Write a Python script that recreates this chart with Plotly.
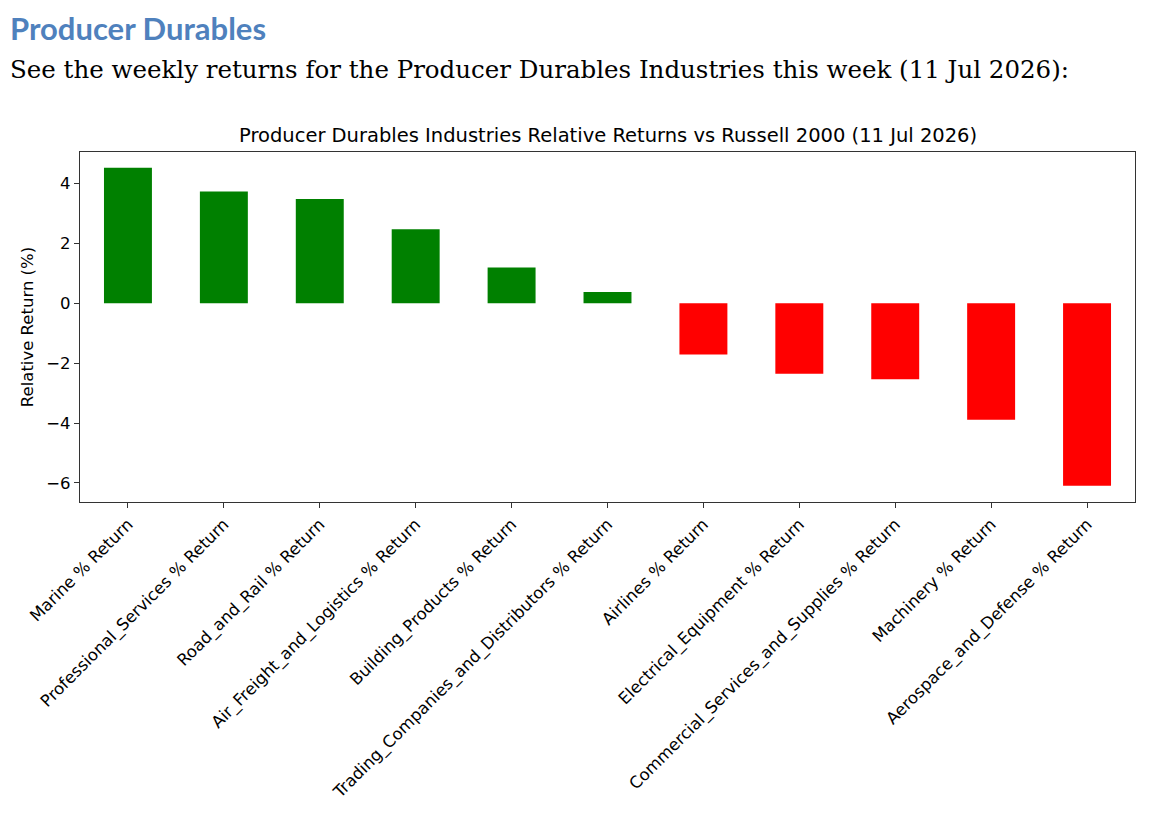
import plotly.graph_objects as go

industries = ["Marine % Return", "Professional_Services % Return", "Road_and_Rail % Return",
              "Air_Freight_and_Logistics % Return", "Building_Products % Return",
              "Trading_Companies_and_Distributors % Return", "Airlines % Return",
              "Electrical_Equipment % Return", "Commercial_Services_and_Supplies % Return",
              "Machinery % Return", "Aerospace_and_Defense % Return"]
returns = [4.53, 3.74, 3.49, 2.48, 1.20, 0.38, -1.71, -2.35, -2.54, -3.89, -6.10]
y_ticks = [-6, -4, -2, 0, 2, 4]

colors = ["green" if r > 0 else "red" for r in returns]

# the page adds an 8px body margin, so the figure is shifted by that much
OFF = 8
W, H = 1158 - OFF, 820 - OFF
L, R, T, B = 80 - OFF, 23, 152 - OFF, 318
pw, ph = W - L - R, H - T - B

# page pixel -> paper coordinate
def px_x(x):
    return (x - OFF - L) / pw

def px_y(y):
    return (H - B - (y - OFF)) / ph

fig = go.Figure(go.Bar(x=industries, y=returns, marker_color=colors,
                       marker_line_width=0, width=0.5))

fig.update_layout(
    width=W, height=H,
    margin=dict(l=L, r=R, t=T, b=B),
    plot_bgcolor="white", paper_bgcolor="white",
    showlegend=False,
    font=dict(family="DejaVu Sans", size=16, color="black"),
)
fig.update_xaxes(showline=True, mirror=True, linecolor="#333", linewidth=1.3,
                 ticks="outside", ticklen=5, tickcolor="#333", tickangle=-45,
                 tickfont=dict(size=16.5), range=[-0.5, 10.5])
fig.update_yaxes(showline=True, mirror=True, linecolor="#333", linewidth=1.3,
                 ticks="outside", ticklen=5, tickcolor="#333", showgrid=False,
                 zeroline=False, range=[-6.64, 5.06], tickvals=y_ticks,
                 ticktext=["\u2212" + str(-v) if v < 0 else str(v) for v in y_ticks],
                 tickfont=dict(size=16.5),
                 title=dict(text="Relative Return (%)", font=dict(size=16.5), standoff=8))

fig.add_annotation(text="<b>Producer Durables</b>", xref="paper", yref="paper",
                   x=px_x(9), y=px_y(OFF), xanchor="left", yanchor="top", showarrow=False,
                   borderpad=0, font=dict(family="Lato", size=31, color="#4F81BD"))
fig.add_annotation(text="See the weekly returns for the Producer Durables Industries this week (11 Jul 2026):",
                   xref="paper", yref="paper", x=px_x(8), y=px_y(69), xanchor="left",
                   yanchor="middle", showarrow=False,
                   font=dict(family="DejaVu Serif", size=24.5, color="black"))
fig.add_annotation(text="Producer Durables Industries Relative Returns vs Russell 2000 (11 Jul 2026)",
                   xref="paper", yref="paper", x=0.5, y=px_y(136), xanchor="center",
                   yanchor="middle", showarrow=False, font=dict(size=19.5))

fig.write_html("out.html")
